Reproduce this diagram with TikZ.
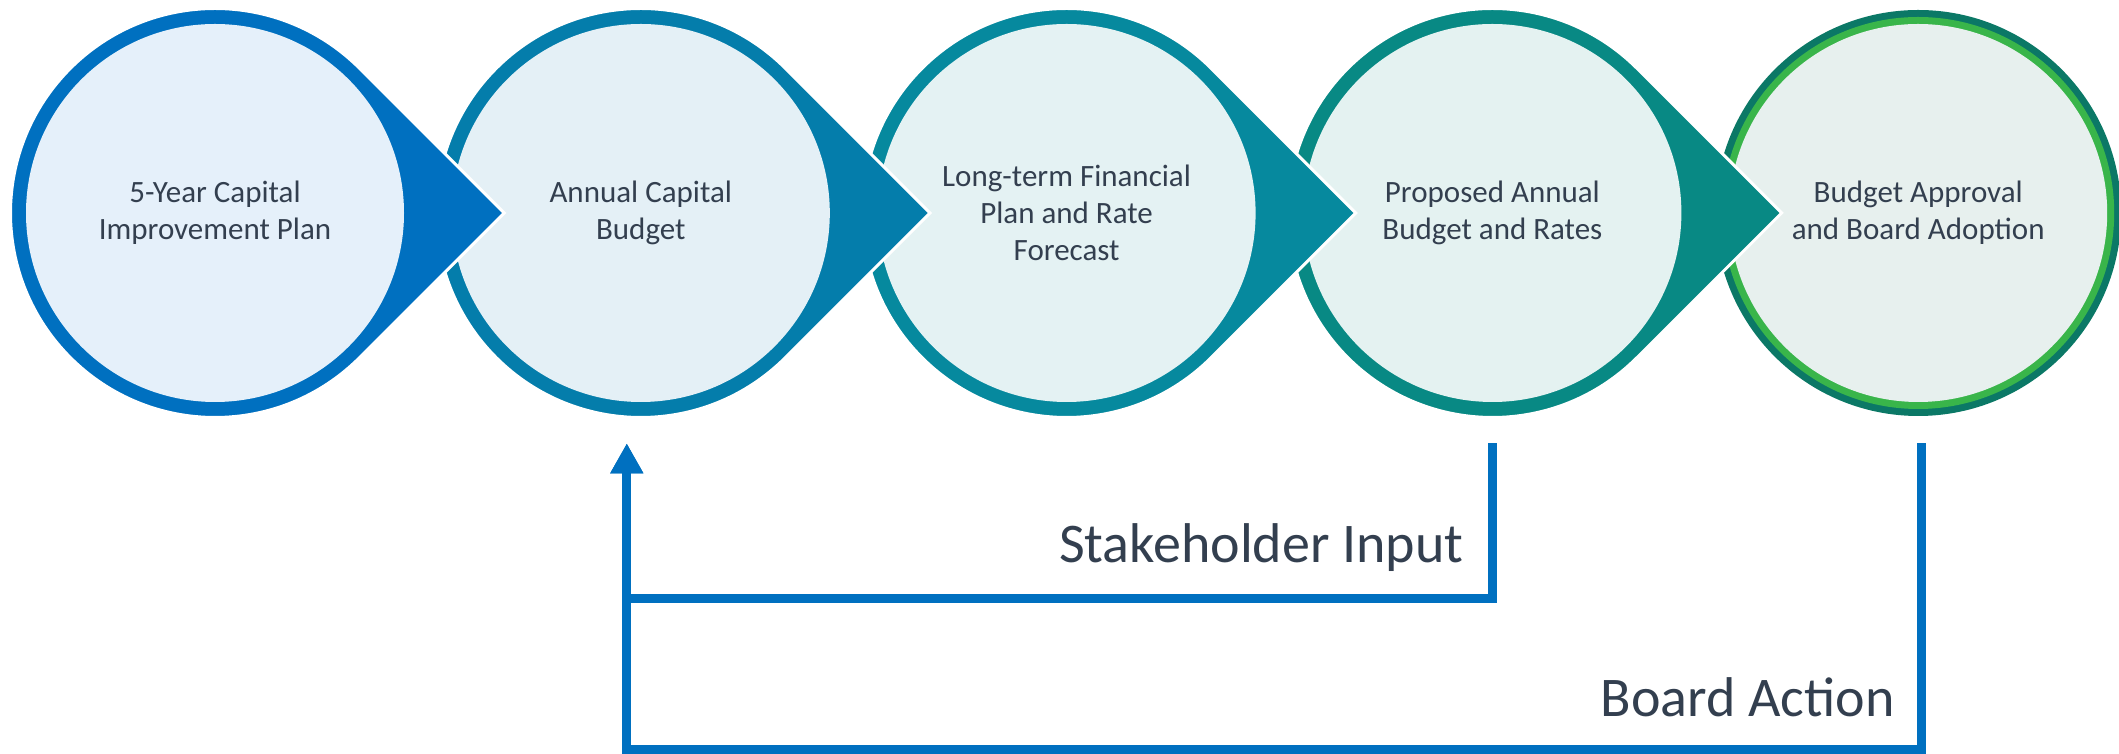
\documentclass[tikz,border=0pt]{standalone}
\usepackage{fontspec}
\setmainfont{Carlito}
\usetikzlibrary{positioning}
\usetikzlibrary{backgrounds}
\usetikzlibrary{arrows.meta}
\definecolor{txt}{HTML}{333F4F}
\definecolor{ring1}{HTML}{0070C0}
\definecolor{ring2}{HTML}{047DAB}
\definecolor{ring3}{HTML}{06899E}
\definecolor{ring4}{HTML}{088984}
\definecolor{ring5}{HTML}{0B7866}
\definecolor{green5}{HTML}{39B54A}
\definecolor{fill1}{HTML}{E5F0FA}
\definecolor{fill2}{HTML}{E4F0F6}
\definecolor{fill3}{HTML}{E4F2F3}
\definecolor{fill4}{HTML}{E4F2F1}
\definecolor{fill5}{HTML}{E7F0EE}
\begin{document}
\begin{tikzpicture}[x=0.5pt,y=0.5pt,node distance=9.5pt,
  stage/.style={circle,minimum size=203pt,inner sep=0,align=center,text=txt,font=\fontsize{15.5}{18.5}\selectfont},
  feedback/.style={draw=ring1,line width=4.5pt,-{Triangle[width=15.5pt,length=15pt]}},
  fbtext/.style={text=txt,font=\fontsize{28}{34}\selectfont,inner sep=0}]
  \useasboundingbox (0,0) rectangle (2119,754);
  \node[stage](cip) at (215,541) {5-Year Capital\\Improvement Plan};
  \node[stage,right= of cip](acb) {Annual Capital\\Budget};
  \node[stage,right= of acb](ltfp) {Long-term Financial\\Plan and Rate\\Forecast};
  \node[stage,right= of ltfp](pabr) {Proposed Annual\\Budget and Rates};
  \node[stage,right= of pabr](bab) {Budget Approval\\and Board Adoption};
  % rings and arrow tips, drawn right to left
  \begin{scope}[on background layer]
    \fill[ring5] (bab.center) circle (203);
    \fill[green5] (bab.center) circle (196);
    \fill[fill5] (bab.center) circle (189);
    \path[fill=ring4,draw=white,line width=1.5pt] (pabr.center) ++(45:204.5) -- ++(-45:204.5) -- ++(-135:204.5) arc[start angle=-45,end angle=-315,radius=204.5] -- cycle;
    \fill[fill4] (pabr.center) circle (189);
    \path[fill=ring3,draw=white,line width=1.5pt] (ltfp.center) ++(45:204.5) -- ++(-45:204.5) -- ++(-135:204.5) arc[start angle=-45,end angle=-315,radius=204.5] -- cycle;
    \fill[fill3] (ltfp.center) circle (189);
    \path[fill=ring2,draw=white,line width=1.5pt] (acb.center) ++(45:204.5) -- ++(-45:204.5) -- ++(-135:204.5) arc[start angle=-45,end angle=-315,radius=204.5] -- cycle;
    \fill[fill2] (acb.center) circle (189);
    \path[fill=ring1,draw=white,line width=1.5pt] (cip.center) ++(45:204.5) -- ++(-45:204.5) -- ++(-135:204.5) arc[start angle=-45,end angle=-315,radius=204.5] -- cycle;
    \fill[fill1] (cip.center) circle (189);
  \end{scope}
  \node[fbtext,anchor=base east](silabel) at (1464,191) {Stakeholder Input};
  \node[fbtext,anchor=base east](balabel) at (1895,37) {Board Action};
  \coordinate (sitop) at ([yshift=-13.5pt]pabr.south);
  \coordinate (batop) at ([xshift=1.5pt,yshift=-13.5pt]bab.south);
  \coordinate (acbin) at ([xshift=-7pt,yshift=-13.5pt]acb.south);
  \draw[feedback] (batop) -- ++(0,-306) -| (acbin);
  \draw[feedback] (sitop) -- ++(0,-155) -| (acbin);
\end{tikzpicture}
\end{document}
